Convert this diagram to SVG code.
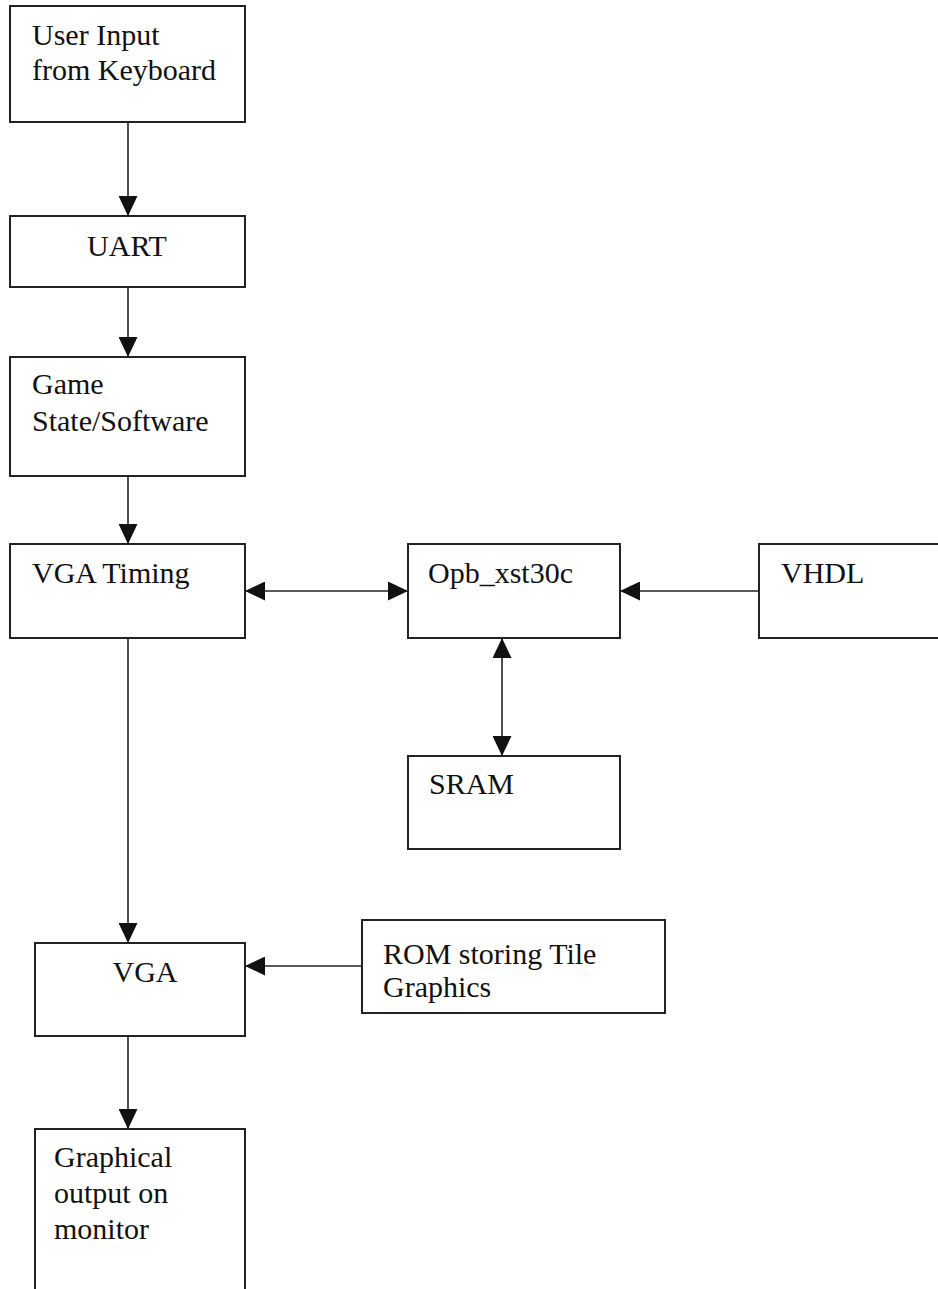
<svg xmlns="http://www.w3.org/2000/svg" width="938" height="1289" viewBox="0 0 938 1289">
<style>
.box{fill:#fff;stroke:#222;stroke-width:2}
.t{font-family:"Liberation Serif","Times New Roman",serif;font-size:30px;fill:#111}
.c{stroke:#222;stroke-width:1.6;fill:none}
</style>
<defs>
<marker id="ah" markerUnits="userSpaceOnUse" markerWidth="20" markerHeight="19" refX="20" refY="9.5" orient="auto-start-reverse">
<path d="M0,0 L20,9.5 L0,19 z" fill="#111"/>
</marker>
</defs>
<rect width="938" height="1289" fill="#fff"/>
<g id="connectors">
<line class="c" x1="128" y1="122" x2="128" y2="216" marker-end="url(#ah)"/>
<line class="c" x1="128" y1="287" x2="128" y2="357" marker-end="url(#ah)"/>
<line class="c" x1="128" y1="476" x2="128" y2="544" marker-end="url(#ah)"/>
<line class="c" x1="245" y1="591" x2="408" y2="591" marker-start="url(#ah)" marker-end="url(#ah)"/>
<line class="c" x1="759" y1="591" x2="620" y2="591" marker-end="url(#ah)"/>
<line class="c" x1="502" y1="638" x2="502" y2="756" marker-start="url(#ah)" marker-end="url(#ah)"/>
<line class="c" x1="128" y1="638" x2="128" y2="943" marker-end="url(#ah)"/>
<line class="c" x1="362" y1="966" x2="245" y2="966" marker-end="url(#ah)"/>
<line class="c" x1="128" y1="1036" x2="128" y2="1129" marker-end="url(#ah)"/>
</g>
<g id="keyboard">
<rect class="box" x="10" y="6" width="235" height="116"/>
<text class="t" x="32" y="45">User Input</text>
<text class="t" x="32" y="80">from Keyboard</text>
</g>
<g id="uart">
<rect class="box" x="10" y="216" width="235" height="71"/>
<text class="t" x="127" y="256" text-anchor="middle">UART</text>
</g>
<g id="gamestate">
<rect class="box" x="10" y="357" width="235" height="119"/>
<text class="t" x="32" y="394">Game</text>
<text class="t" x="32" y="431">State/Software</text>
</g>
<g id="vgatiming">
<rect class="box" x="10" y="544" width="235" height="94"/>
<text class="t" x="32" y="583">VGA Timing</text>
</g>
<g id="opb">
<rect class="box" x="408" y="544" width="212" height="94"/>
<text class="t" x="428" y="583">Opb_xst30c</text>
</g>
<g id="vhdl">
<rect class="box" x="759" y="544" width="200" height="94"/>
<text class="t" x="781" y="583">VHDL</text>
</g>
<g id="sram">
<rect class="box" x="408" y="756" width="212" height="93"/>
<text class="t" x="429" y="794">SRAM</text>
</g>
<g id="vga">
<rect class="box" x="35" y="943" width="210" height="93"/>
<text class="t" x="145" y="982" text-anchor="middle">VGA</text>
</g>
<g id="rom">
<rect class="box" x="362" y="920" width="303" height="93"/>
<text class="t" x="383" y="964">ROM storing Tile</text>
<text class="t" x="383" y="997">Graphics</text>
</g>
<g id="output">
<rect class="box" x="35" y="1129" width="210" height="200"/>
<text class="t" x="54" y="1167">Graphical</text>
<text class="t" x="54" y="1203">output on</text>
<text class="t" x="54" y="1239">monitor</text>
</g>
</svg>
